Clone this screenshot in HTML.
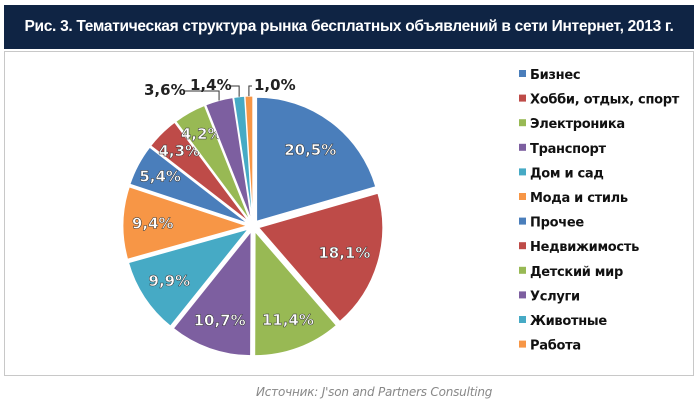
<!DOCTYPE html>
<html><head><meta charset="utf-8">
<style>
body{margin:0;width:700px;height:407px;background:#fff;overflow:hidden;font-family:"Liberation Sans","Noto Sans CJK SC",sans-serif;}
#title{position:absolute;left:4px;top:5px;width:690px;height:44px;background:#0f2444;color:#fff;font-weight:bold;font-size:15.5px;line-height:44px;text-align:center;letter-spacing:-0.3px;}
#box{position:absolute;left:4px;top:51px;width:688px;height:323px;border:1px solid #c8c8c8;}
#src{position:absolute;left:256px;top:385px;font-style:italic;color:#888;font-size:12px;font-family:"DejaVu Sans",sans-serif;letter-spacing:-0.2px}
</style></head><body>
<div id="title">Рис. 3. Тематическая структура рынка бесплатных объявлений в сети Интернет, 2013 г.</div>
<div id="box"></div>
<svg id="svg" width="700" height="407" style="position:absolute;left:0;top:0"></svg>
<div id="src">Источник: J'son and Partners Consulting</div>
<script>
const categories=["Бизнес","Хобби, отдых, спорт","Электроника","Транспорт","Дом и сад","Мода и стиль","Прочее","Недвижимость","Детский мир","Услуги","Животные","Работа"];
const values=[20.5,18.1,11.4,10.7,9.9,9.4,5.4,4.3,4.2,3.6,1.4,1.0];
const labels=["20,5%","18,1%","11,4%","10,7%","9,9%","9,4%","5,4%","4,3%","4,2%","3,6%","1,4%","1,0%"];
const colors=["#4a7ebb","#be4b48","#98b954","#7d5fa0","#46aac5","#f79646","#4a7ebb","#be4b48","#98b954","#7d5fa0","#46aac5","#f79646"];
const NS="http://www.w3.org/2000/svg";
const svg=document.getElementById('svg');
const cx=253,cy=226,RX=124,RY=124,EX=6;
const total=values.reduce((a,b)=>a+b,0);
function pt(a,f){return [cx+RX*f*Math.sin(a),cy-RY*f*Math.cos(a)];}
const outside=[[144,95],[190,90],[254,90]];
let acc=0;
values.forEach((v,i)=>{
  const a0=acc/total*2*Math.PI;acc+=v;const a1=acc/total*2*Math.PI;const am=(a0+a1)/2;
  const ox=EX*Math.sin(am),oy=-EX*Math.cos(am);
  const p0=pt(a0,1),p1=pt(a1,1);
  const d=`M${cx+ox},${cy+oy} L${p0[0]+ox},${p0[1]+oy} A${RX},${RY} 0 ${a1-a0>Math.PI?1:0} 1 ${p1[0]+ox},${p1[1]+oy} Z`;
  const s=document.createElementNS(NS,'path');
  s.setAttribute('d',d);s.setAttribute('fill',colors[i]);s.setAttribute('stroke','#fff');s.setAttribute('stroke-width','1');
  
  
  svg.appendChild(s);
  const t=document.createElementNS(NS,'text');
  let lx,ly,fill='#fff';
  if(v<4){
    const [ex,ey]=pt(am,1);const exx=ex+ox,eyy=ey+oy;
    const o=outside[i-9];lx=o[0];ly=o[1];fill='#222';
    const ln=document.createElementNS(NS,'polyline');
    const tx=i==11?lx-2:lx+40;
    ln.setAttribute('points',`${tx},${ly-4} ${exx},${ly-4} ${exx},${eyy}`);
    ln.setAttribute('fill','none');ln.setAttribute('stroke','#333');ln.setAttribute('stroke-width','1');
    
    
    svg.appendChild(ln);
    t.setAttribute('text-anchor','start');
  } else {
    const rf=v>15?0.72:(v>8?0.76:0.8);
    [lx,ly]=pt(am,rf);lx+=ox;ly+=oy+5;
    t.setAttribute('text-anchor','middle');
  }
  t.setAttribute('x',lx);t.setAttribute('y',ly);t.setAttribute('fill',fill);
  t.setAttribute('font-size','15');t.setAttribute('font-weight','bold');
  t.setAttribute('font-family','"DejaVu Sans",sans-serif');
  if(fill=='#fff'){t.setAttribute('stroke','#333');t.setAttribute('stroke-width','0.5');}
  t.textContent=labels[i];
  
  
  svg.appendChild(t);
});
categories.forEach((c,i)=>{
  const y=75+i*24.6;
  const r=document.createElementNS(NS,'rect');
  r.setAttribute('x',519);r.setAttribute('y',y-5);r.setAttribute('width',7);r.setAttribute('height',7);r.setAttribute('fill',colors[i]);
  
  
  svg.appendChild(r);
  const t=document.createElementNS(NS,'text');
  t.setAttribute('x',530);t.setAttribute('y',y+4);t.setAttribute('font-size','13');t.setAttribute('font-weight','bold');t.setAttribute('fill','#111');
  t.setAttribute('font-family','"DejaVu Sans",sans-serif');t.setAttribute('letter-spacing','-0.3');
  t.textContent=c;
  
  
  svg.appendChild(t);
});
</script>
</body></html>
